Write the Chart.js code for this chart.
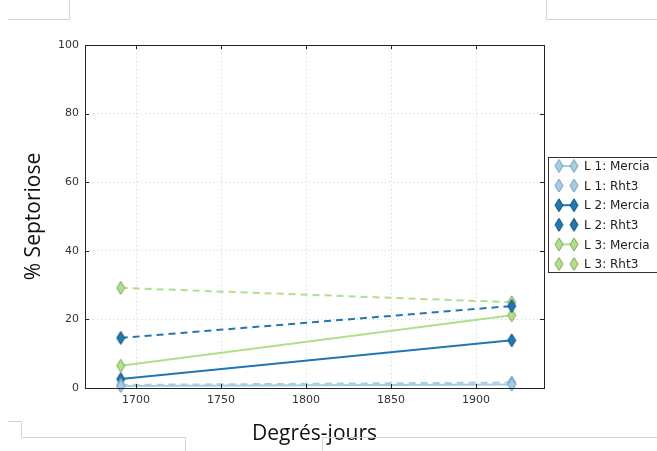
<!DOCTYPE html>
<html>
<head>
<meta charset="utf-8">
<script src="https://cdn.jsdelivr.net/npm/chart.js@4/dist/chart.umd.min.js"></script>
<style>
  html, body { margin: 0; padding: 0; background: #fff; }
  #wrap { width: 657px; height: 451px; position: relative; }
</style>
</head>
<body>
<div id="wrap"><canvas id="septChart" width="657" height="451"></canvas></div>
<script>
// Data
const degreeDays = [1691, 1921];
const l1Mercia = [0.6, 1.0];
const l1Rht3 = [0.9, 1.6];
const l2Mercia = [2.6, 13.9];
const l2Rht3 = [14.6, 23.9];
const l3Mercia = [6.5, 21.2];
const l3Rht3 = [29.2, 25.0];
const xTicks = [1700, 1750, 1800, 1850, 1900];
const yTicks = [0, 20, 40, 60, 80, 100];
const seriesLabels = ['L 1: Mercia', 'L 1: Rht3', 'L 2: Mercia', 'L 2: Rht3', 'L 3: Mercia', 'L 3: Rht3'];

const lightBlue = '#a6cee3', darkBlue = '#1f78b4', lightGreen = '#b2df8a';

// thin diamond marker like matplotlib 'd'
function diamond(fill, edge) {
    const c = document.createElement('canvas');
    c.width = 10; c.height = 15;
    const g = c.getContext('2d');
    g.beginPath();
    g.moveTo(5, 1); g.lineTo(9, 7.5); g.lineTo(5, 14); g.lineTo(1, 7.5); g.closePath();
    g.fillStyle = fill; g.fill();
    g.lineWidth = 1; g.strokeStyle = edge; g.stroke();
    return c;
}

const series = [
    { data: l1Mercia, color: lightBlue, edge: '#6f9fba', dash: [] },
    { data: l1Rht3, color: lightBlue, edge: '#6f9fba', dash: [7, 5] },
    { data: l2Mercia, color: darkBlue, edge: '#10507e', dash: [] },
    { data: l2Rht3, color: darkBlue, edge: '#10507e', dash: [7, 5] },
    { data: l3Mercia, color: lightGreen, edge: '#7aa85a', dash: [] },
    { data: l3Rht3, color: lightGreen, edge: '#7aa85a', dash: [7, 5] }
];
series.forEach(s => s.marker = diamond(s.color, s.edge));

const datasets = series.map((s, i) => ({
    label: seriesLabels[i],
    data: degreeDays.map((x, j) => ({ x: x, y: s.data[j] })),
    borderColor: s.color,
    borderWidth: 2,
    borderDash: s.dash,
    pointStyle: s.marker,
    pointRadius: 6,
    pointHoverRadius: 6,
    clip: false,
    tension: 0
}));

// frame, inner ticks, legend and the screenshot border lines
const extras = {
    id: 'extras',
    afterDraw(chart) {
        const ctx = chart.ctx;
        const a = chart.chartArea;
        ctx.save();
        ctx.strokeStyle = '#222';
        ctx.lineWidth = 1;
        ctx.strokeRect(Math.round(a.left) + 0.5, Math.round(a.top) + 0.5,
            Math.round(a.right - a.left), Math.round(a.bottom - a.top));
        // inward tick marks
        ctx.beginPath();
        xTicks.forEach(v => {
            const x = Math.round(chart.scales.x.getPixelForValue(v)) + 0.5;
            ctx.moveTo(x, a.bottom); ctx.lineTo(x, a.bottom - 4);
            ctx.moveTo(x, a.top); ctx.lineTo(x, a.top + 4);
        });
        yTicks.forEach(v => {
            const y = Math.round(chart.scales.y.getPixelForValue(v)) + 0.5;
            ctx.moveTo(a.left, y); ctx.lineTo(a.left + 4, y);
            ctx.moveTo(a.right, y); ctx.lineTo(a.right - 4, y);
        });
        ctx.stroke();

        // legend box
        const lx = 548, ly = 157, lw = 120, lh = 115;
        ctx.strokeStyle = '#333';
        ctx.strokeRect(lx + 0.5, ly + 0.5, lw, lh);
        ctx.font = '12px "DejaVu Sans"';
        ctx.fillStyle = '#222';
        ctx.textBaseline = 'middle';
        series.forEach((s, i) => {
            const y = 166 + i * 19.6;
            if (!s.dash.length) {
                ctx.beginPath();
                ctx.strokeStyle = s.color;
                ctx.lineWidth = 2;
                ctx.moveTo(559, y); ctx.lineTo(574, y); ctx.stroke();
            }
            ctx.drawImage(s.marker, 559 - 5, y - 7.5);
            ctx.drawImage(s.marker, 574 - 5, y - 7.5);
            ctx.fillText(seriesLabels[i], 584, y + 1);
        });

        // light grey page lines around the picture
        ctx.strokeStyle = '#d4d4d4';
        ctx.lineWidth = 1;
        const segs = [
            [[8, 19.5], [69.5, 19.5], [69.5, 0]],
            [[546.5, 0], [546.5, 19.5], [657, 19.5]],
            [[8, 421.5], [21.5, 421.5], [21.5, 437.5], [185.5, 437.5], [185.5, 451]],
            [[322.5, 451], [322.5, 437.5], [657, 437.5]]
        ];
        segs.forEach(p => {
            ctx.beginPath();
            ctx.moveTo(p[0][0], p[0][1]);
            p.slice(1).forEach(q => ctx.lineTo(q[0], q[1]));
            ctx.stroke();
        });
        ctx.restore();
    }
};

const tickFont = { family: 'DejaVu Sans', size: 11 };

new Chart(document.getElementById('septChart'), {
    type: 'line',
    data: { datasets: datasets },
    options: {
        responsive: false,
        animation: false,
        layout: { padding: { left: 21, right: 113, top: 45, bottom: 0 } },
        plugins: { legend: { display: false }, tooltip: { enabled: false } },
        scales: {
            x: {
                type: 'linear',
                min: 1670,
                max: 1940,
                afterBuildTicks: s => { s.ticks = xTicks.map(v => ({ value: v })); },
                afterFit: s => { s.height = 63; },
                ticks: { color: '#333', font: tickFont, padding: 6, maxRotation: 0,
                    callback: v => String(v) },
                grid: { color: '#d0d0d0', drawTicks: false },
                border: { display: false, dash: [1, 3] },
                title: { display: true, text: 'Degrés-jours', color: '#111',
                    font: { family: 'Open Sans', size: 21 }, padding: { top: 8 } }
            },
            y: {
                min: 0,
                max: 100,
                afterBuildTicks: s => { s.ticks = yTicks.map(v => ({ value: v })); },
                afterFit: s => { s.width = 64; },
                ticks: { color: '#333', font: tickFont, padding: 6 },
                grid: { color: '#d0d0d0', drawTicks: false },
                border: { display: false, dash: [1, 3] },
                title: { display: true, text: '% Septoriose', color: '#111',
                    font: { family: 'Open Sans', size: 21 }, padding: { top: 0, bottom: 0 } }
            }
        }
    },
    plugins: [extras]
});
</script>
</body>
</html>
